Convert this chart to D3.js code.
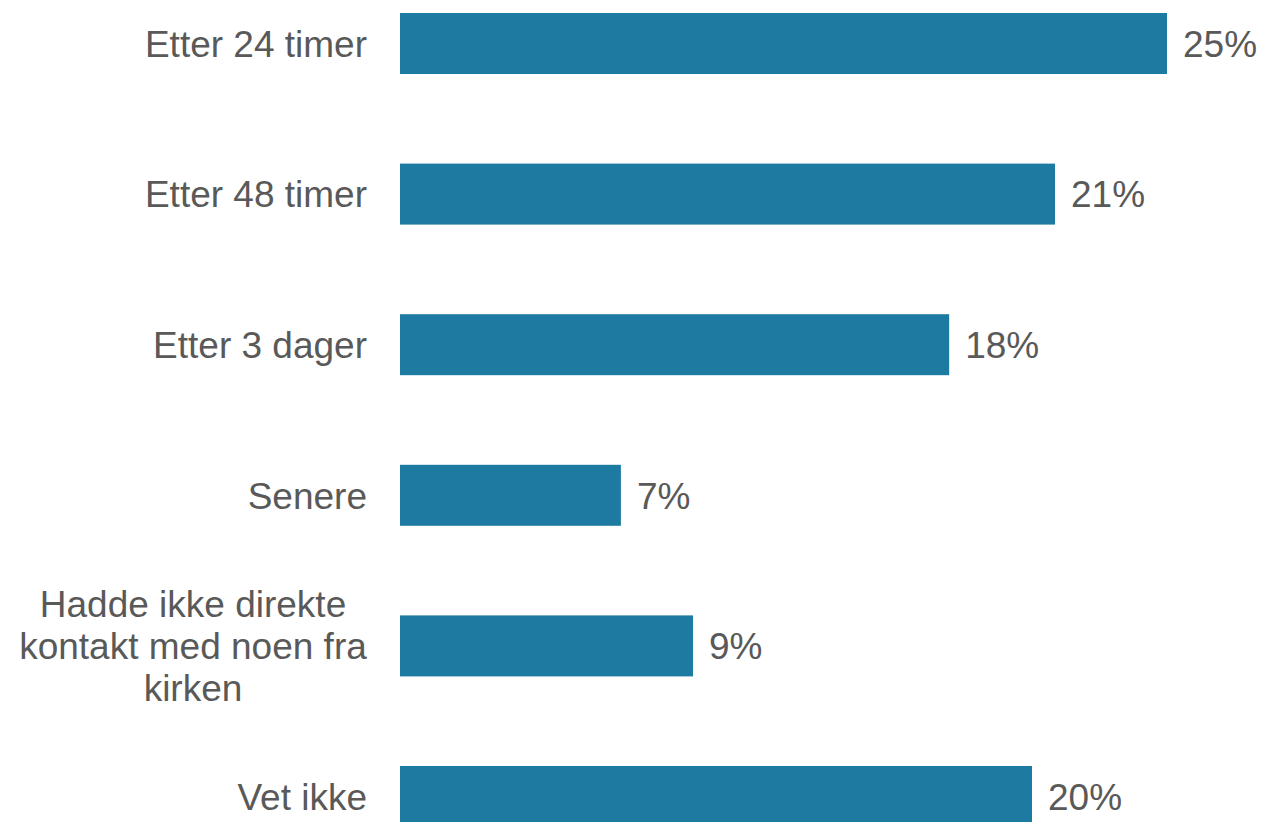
<!DOCTYPE html>
<html>
<head>
<meta charset="utf-8">
<script src="https://cdn.jsdelivr.net/npm/d3@7"></script>
<style>
  html, body { margin: 0; padding: 0; background: #fff; overflow: hidden; }
  svg text { font-family: "Liberation Sans", Arial, Helvetica, sans-serif; fill: #595959; }
</style>
</head>
<body>
<div id="chart"></div>
<script>
const categories = [
    ['Etter 24 timer'],
    ['Etter 48 timer'],
    ['Etter 3 dager'],
    ['Senere'],
    ['Hadde ikke direkte', 'kontakt med noen fra', 'kirken'],
    ['Vet ikke']
];
const values = [25, 21.35, 17.9, 7.2, 9.55, 20.6];
const valueLabels = ['25%', '21%', '18%', '7%', '9%', '20%'];

const width = 1263, height = 822;
const svg = d3.select('#chart').append('svg')
    .attr('width', width)
    .attr('height', height);

const x = d3.scaleLinear().domain([0, 25]).range([400, 1167]);

const step = 150.6, pad = 0.595;
const y = d3.scaleBand()
    .domain(d3.range(categories.length))
    .range([13 - step * pad / 2, 13 - step * pad / 2 + step * categories.length])
    .paddingInner(pad)
    .paddingOuter(pad / 2);

const fontSize = 37;

// bars
svg.selectAll('rect.bar')
    .data(values)
    .join('rect')
    .attr('class', 'bar')
    .attr('x', x(0))
    .attr('y', (d, i) => y(i))
    .attr('width', d => x(d) - x(0))
    .attr('height', y.bandwidth())
    .attr('fill', '#1d7ba1');

// value labels
svg.selectAll('text.val')
    .data(values)
    .join('text')
    .attr('class', 'val')
    .attr('x', d => x(d) + 16)
    .attr('y', (d, i) => y(i) + y.bandwidth() / 2)
    .attr('dy', '0.36em')
    .attr('font-size', fontSize)
    .text((d, i) => valueLabels[i]);

// category labels
const lineH = 42;
categories.forEach((lines, i) => {
    const cy = y(i) + y.bandwidth() / 2;
    const t = svg.append('text')
        .attr('text-anchor', lines.length > 1 ? 'middle' : 'end')
        .attr('font-size', fontSize);
    lines.forEach((ln, j) => {
        t.append('tspan')
            .attr('x', lines.length > 1 ? 193 : 367)
            .attr('y', cy + (j - (lines.length - 1) / 2) * lineH)
            .attr('dy', '0.36em')
            .text(ln);
    });
});
</script>
</body>
</html>
